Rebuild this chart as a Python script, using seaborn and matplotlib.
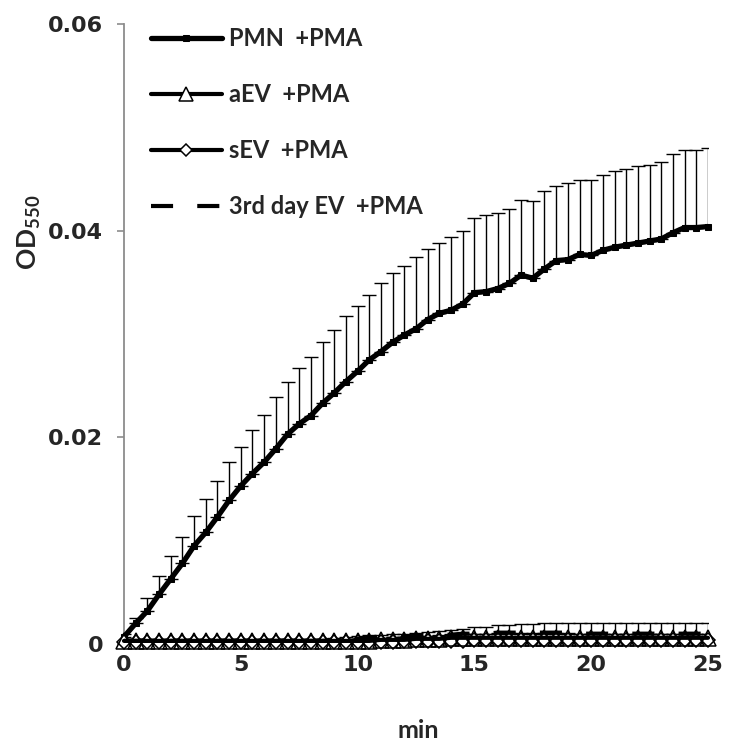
import numpy as np
import matplotlib
matplotlib.use('Agg')
import matplotlib.pyplot as plt
import seaborn as sns

# ── data ──
minutes = np.arange(0, 25.5, 0.5)

pmn = [0.0007, 0.0020, 0.0032, 0.0048, 0.0063, 0.0078, 0.0095, 0.0108, 0.0123, 0.0139,
       0.0153, 0.0165, 0.0176, 0.0189, 0.0203, 0.0213, 0.0221, 0.0233, 0.0243, 0.0254,
       0.0264, 0.0275, 0.0283, 0.0292, 0.0299, 0.0305, 0.0314, 0.0320, 0.0323, 0.0329,
       0.0340, 0.0341, 0.0344, 0.0349, 0.0357, 0.0354, 0.0363, 0.0371, 0.0372, 0.0377,
       0.0376, 0.0381, 0.0384, 0.0386, 0.0388, 0.0390, 0.0392, 0.0398, 0.0403, 0.0403,
       0.0404]
pmn_err = [0.0003, 0.0005, 0.0013, 0.0018, 0.0022, 0.0026, 0.0029, 0.0032, 0.0035, 0.0037,
           0.0038, 0.0042, 0.0046, 0.0050, 0.0051, 0.0054, 0.0057, 0.0059, 0.0061, 0.0063,
           0.0063, 0.0063, 0.0066, 0.0067, 0.0067, 0.0070, 0.0068, 0.0068, 0.0071, 0.0071,
           0.0072, 0.0074, 0.0073, 0.0072, 0.0073, 0.0075, 0.0075, 0.0072, 0.0074, 0.0072,
           0.0073, 0.0073, 0.0074, 0.0074, 0.0075, 0.0074, 0.0074, 0.0076, 0.0075, 0.0075,
           0.0076]

aev = [0.0003, 0.0003, 0.0003, 0.0003, 0.0003, 0.0003, 0.0003, 0.0003, 0.0003, 0.0003,
       0.0003, 0.0003, 0.0003, 0.0003, 0.0003, 0.0003, 0.0003, 0.0003, 0.0003, 0.0003,
       0.0003, 0.0003, 0.0004, 0.0004, 0.0004, 0.0005, 0.0005, 0.0005, 0.0006, 0.0006,
       0.0006, 0.0006, 0.0006, 0.0006, 0.0006, 0.0006, 0.0006, 0.0006, 0.0006, 0.0006,
       0.0006, 0.0006, 0.0006, 0.0006, 0.0006, 0.0006, 0.0006, 0.0006, 0.0006, 0.0006,
       0.0006]
aev_err = [0.0002, 0.0002, 0.0002, 0.0002, 0.0002, 0.0002, 0.0002, 0.0002, 0.0002, 0.0002,
           0.0002, 0.0002, 0.0002, 0.0002, 0.0002, 0.0002, 0.0002, 0.0002, 0.0002, 0.0002,
           0.0002, 0.0002, 0.0002, 0.0003, 0.0003, 0.0003, 0.0003, 0.0003, 0.0004, 0.0004,
           0.0004, 0.0004, 0.0004, 0.0004, 0.0004, 0.0004, 0.0004, 0.0004, 0.0004, 0.0004,
           0.0004, 0.0004, 0.0004, 0.0004, 0.0004, 0.0004, 0.0004, 0.0004, 0.0004, 0.0004,
           0.0004]

sev = [0.0002, 0.0002, 0.0002, 0.0002, 0.0002, 0.0002, 0.0002, 0.0002, 0.0002, 0.0002,
       0.0002, 0.0002, 0.0002, 0.0002, 0.0002, 0.0002, 0.0002, 0.0002, 0.0002, 0.0002,
       0.0002, 0.0002, 0.0002, 0.0002, 0.0003, 0.0003, 0.0003, 0.0003, 0.0003, 0.0003,
       0.0004, 0.0004, 0.0004, 0.0004, 0.0004, 0.0004, 0.0004, 0.0004, 0.0004, 0.0004,
       0.0004, 0.0004, 0.0004, 0.0004, 0.0004, 0.0004, 0.0004, 0.0004, 0.0004, 0.0004,
       0.0004]
sev_err = [0.0001, 0.0001, 0.0001, 0.0001, 0.0001, 0.0001, 0.0001, 0.0001, 0.0001, 0.0001,
           0.0001, 0.0001, 0.0001, 0.0001, 0.0001, 0.0001, 0.0001, 0.0001, 0.0001, 0.0001,
           0.0001, 0.0001, 0.0001, 0.0001, 0.0002, 0.0002, 0.0002, 0.0002, 0.0002, 0.0002,
           0.0002, 0.0002, 0.0002, 0.0002, 0.0002, 0.0002, 0.0002, 0.0002, 0.0002, 0.0002,
           0.0002, 0.0002, 0.0002, 0.0002, 0.0002, 0.0002, 0.0002, 0.0002, 0.0002, 0.0002,
           0.0002]

ev3 = [0.0003, 0.0003, 0.0003, 0.0003, 0.0003, 0.0003, 0.0003, 0.0003, 0.0003, 0.0003,
       0.0003, 0.0003, 0.0003, 0.0003, 0.0003, 0.0003, 0.0003, 0.0003, 0.0004, 0.0005,
       0.0005, 0.0006, 0.0006, 0.0007, 0.0007, 0.0008, 0.0008, 0.0009, 0.0009, 0.0010,
       0.0010, 0.0010, 0.0011, 0.0011, 0.0011, 0.0011, 0.0011, 0.0011, 0.0011, 0.0010,
       0.0010, 0.0010, 0.0010, 0.0010, 0.0010, 0.0010, 0.0010, 0.0010, 0.0010, 0.0010,
       0.0010]
ev3_err = [0.0002, 0.0002, 0.0002, 0.0002, 0.0002, 0.0002, 0.0002, 0.0002, 0.0002, 0.0002,
           0.0002, 0.0002, 0.0002, 0.0002, 0.0002, 0.0002, 0.0002, 0.0002, 0.0002, 0.0002,
           0.0003, 0.0003, 0.0003, 0.0003, 0.0003, 0.0003, 0.0004, 0.0004, 0.0005, 0.0005,
           0.0006, 0.0006, 0.0007, 0.0007, 0.0008, 0.0008, 0.0009, 0.0009, 0.0009, 0.0010,
           0.0010, 0.0010, 0.0010, 0.0010, 0.0010, 0.0010, 0.0010, 0.0010, 0.0010, 0.0010,
           0.0010]

y_ticks = [0, 0.02, 0.04, 0.06]
y_ticklabels = ['0', '0.02', '0.04', '0.06']
x_ticks = [0, 5, 10, 15, 20, 25]

# ── style ──
sns.set_style('white')
plt.rcParams['font.family'] = ['Lato', 'DejaVu Sans']
plt.rcParams['mathtext.fontset'] = 'custom'
plt.rcParams['mathtext.bf'] = 'Lato:bold'
plt.rcParams['mathtext.rm'] = 'Lato'

fig = plt.figure(figsize=(7.31, 7.51), dpi=100)
ax = fig.add_axes([124 / 731, 1 - 644 / 751, (708 - 124) / 731, (644 - 24) / 751])

# error bars (upper only) under the lines
for vals, err in [(pmn, pmn_err), (aev, aev_err), (sev, sev_err), (ev3, ev3_err)]:
    ax.errorbar(minutes, vals, yerr=[np.zeros(len(err)), err], fmt='none',
                ecolor='black', elinewidth=1.0, capsize=5, capthick=1.0, zorder=1)

sns.lineplot(x=minutes, y=pmn, ax=ax, color='black', linewidth=3.8,
             marker='s', markersize=5, markeredgecolor='black',
             label='PMN  +PMA', zorder=3, clip_on=False)
sns.lineplot(x=minutes, y=sev, ax=ax, color='black', linewidth=3,
             marker='D', markersize=7.5, markerfacecolor='white',
             markeredgecolor='black', markeredgewidth=1.1,
             label='sEV  +PMA', zorder=4, clip_on=False)
sns.lineplot(x=minutes, y=aev, ax=ax, color='black', linewidth=3,
             marker='^', markersize=11.5, markerfacecolor='none',
             markeredgecolor='black', markeredgewidth=1.1,
             label='aEV  +PMA', zorder=5, clip_on=False)
sns.lineplot(x=minutes, y=ev3, ax=ax, color='black', linewidth=3,
             dashes=(5.3, 5.8), label='3rd day EV  +PMA', zorder=6, clip_on=False)

# ── axes ──
ax.set_xlim(0, 25)
ax.set_ylim(0, 0.06)
ax.set_yticks(y_ticks)
ax.set_yticklabels(y_ticklabels)
ax.set_xticks(x_ticks)
for lab in ax.get_xticklabels() + ax.get_yticklabels():
    lab.set_fontfamily('DejaVu Sans')
    lab.set_fontweight('bold')
    lab.set_fontsize(16)
ax.tick_params(axis='y', direction='out', length=5, width=1.2, color='#8c8c8c',
               pad=10, left=True)
ax.tick_params(axis='x', direction='out', length=0, pad=8, bottom=True)

sns.despine(ax=ax)
for side in ['left', 'bottom']:
    ax.spines[side].set_color('#8c8c8c')
    ax.spines[side].set_linewidth(1.3)

ax.set_xlabel('')
ax.set_ylabel('')
fig.text(418 / 731, 1 - 730 / 751, 'min', ha='center', va='center',
         fontsize=18, fontweight='bold')
fig.text(29 / 731, 1 - 232 / 751, r'$\mathbf{OD}_{\mathbf{550}}$', ha='center',
         va='center', rotation=90, fontsize=19)

# legend in reference order, white-filled triangle for the handle
handles, labels = ax.get_legend_handles_labels()
order = ['PMN  +PMA', 'aEV  +PMA', 'sEV  +PMA', '3rd day EV  +PMA']
hmap = dict(zip(labels, handles))
leg = ax.legend([hmap[k] for k in order], order, loc='upper left',
                bbox_to_anchor=(0.03, 1.01), frameon=False,
                fontsize=17, handlelength=3.0, handletextpad=0.3,
                labelspacing=1.4, numpoints=1, borderaxespad=0)
for t in leg.get_texts():
    t.set_fontweight('bold')
for h in leg.legend_handles:
    if h.get_marker() == '^':
        h.set_markerfacecolor('white')
        h.set_markersize(10)
    if h.get_marker() == 'D':
        h.set_markersize(6.5)

fig.savefig('out.png', dpi=100)
